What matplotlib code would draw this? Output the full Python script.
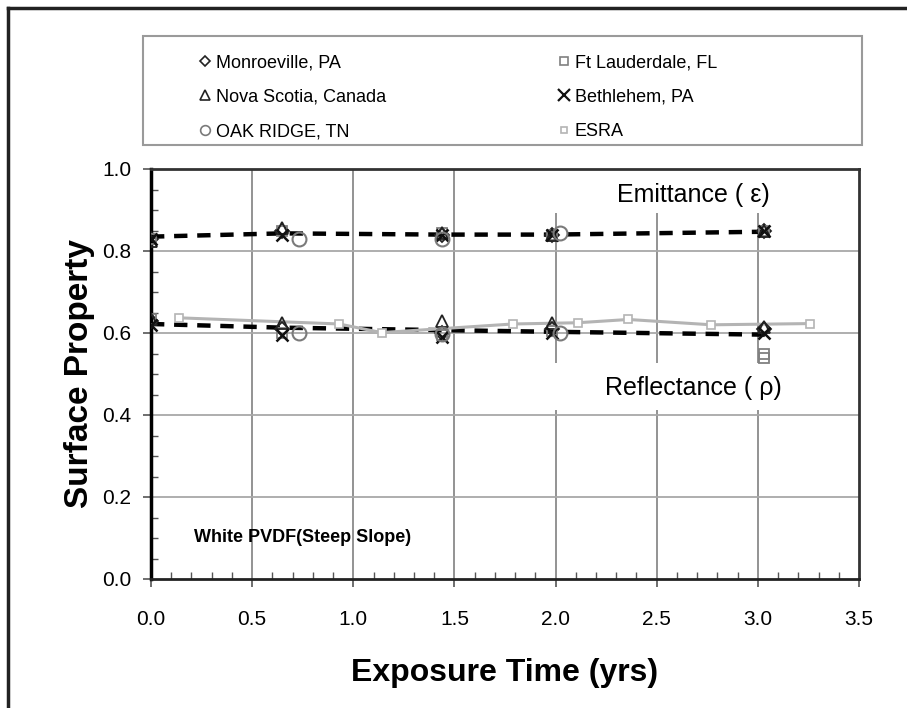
import matplotlib
matplotlib.use("Agg")
import matplotlib.pyplot as plt
from matplotlib.lines import Line2D
from matplotlib.patches import Rectangle
from matplotlib.ticker import MultipleLocator

plt.rcParams['font.family'] = ['Liberation Sans', 'DejaVu Sans']

# ---------------- data ----------------
times = [0.0, 0.65, 1.44, 1.98, 3.03]

monro_emit = [0.83, 0.85, 0.84, 0.84, 0.85]
monro_refl = [0.63, 0.61, 0.60, 0.61, 0.61]

ftl_emit = [0.83, 0.85, 0.845, 0.84, 0.85]
ftl_refl_times = [0.0, 0.65, 1.44, 1.98, 3.03, 3.03]
ftl_refl = [0.635, 0.60, 0.595, 0.605, 0.549, 0.539]

nova_emit = [0.825, 0.855, 0.845, 0.84, 0.85]
nova_refl = [0.635, 0.625, 0.63, 0.625, 0.615]

beth_emit = [0.83, 0.84, 0.84, 0.84, 0.85]
beth_refl = [0.62, 0.595, 0.59, 0.60, 0.60]

oak_times = [0.73, 1.44, 2.02]
oak_emit = [0.83, 0.83, 0.845]
oak_refl = [0.60, 0.597, 0.60]

esra_times = [0.14, 0.93, 1.14, 1.79, 2.11, 2.36, 2.77, 3.26]
esra_refl = [0.637, 0.622, 0.601, 0.622, 0.625, 0.633, 0.620, 0.623]

emit_fit = [0.835, 0.843, 0.840, 0.840, 0.847]
refl_fit = [0.622, 0.613, 0.607, 0.603, 0.596]

x_ticks = [0.0, 0.5, 1.0, 1.5, 2.0, 2.5, 3.0, 3.5]
y_ticks = [0.0, 0.2, 0.4, 0.6, 0.8, 1.0]

# ---------------- figure ----------------
W, H = 907, 708
fig = plt.figure(figsize=(W / 100, H / 100), dpi=100)
ax = fig.add_axes([151 / W, 1 - 579 / H, (859 - 151) / W, (579 - 169) / H])

ax.set_xlim(0, 3.5)
ax.set_ylim(0, 1.0)
ax.set_xticks(x_ticks)
ax.set_yticks(y_ticks)
ax.set_xticklabels([f"{v:.1f}" for v in x_ticks])
ax.set_yticklabels([f"{v:.1f}" for v in y_ticks])
ax.xaxis.set_minor_locator(MultipleLocator(0.1))
ax.yaxis.set_minor_locator(MultipleLocator(0.05))
ax.tick_params(axis='both', which='major', direction='out', length=6, width=1.2,
               color='#555555', labelsize=15)
ax.tick_params(axis='x', which='major', pad=16)
ax.tick_params(axis='y', which='major', pad=8)
ax.tick_params(axis='both', which='minor', direction='in', length=5, width=1.0,
               color='#555555')

# grid
for xv in x_ticks[1:-1]:
    ax.axvline(xv, color='#8a8a8a', lw=1.3, zorder=0.5)
for yv in y_ticks[1:-1]:
    ax.axhline(yv, color='#a8a8a8', lw=1.3, zorder=0.5)

# spines
for s in ['top', 'right']:
    ax.spines[s].set_color('#333333')
    ax.spines[s].set_linewidth(2.0)
ax.spines['left'].set_color('black')
ax.spines['left'].set_linewidth(2.5)
ax.spines['bottom'].set_color('#222222')
ax.spines['bottom'].set_linewidth(2.0)

# white boxes behind labels (cover gridlines)
ax.add_patch(Rectangle((0.52, 0.893), 0.41, 0.107, transform=ax.transAxes,
                       facecolor='white', edgecolor='none', zorder=0.8))
ax.add_patch(Rectangle((0.52, 0.412), 0.41, 0.115, transform=ax.transAxes,
                       facecolor='white', edgecolor='none', zorder=0.8))

# trend lines
ax.plot(times, emit_fit, color='black', lw=3.2, ls=(0, (3, 2.2)), zorder=2)
ax.plot(times, refl_fit, color='black', lw=3.2, ls=(0, (3, 2.2)), zorder=2)
ax.plot(esra_times, esra_refl, color='#b4b4b4', lw=2.2, marker='s', ms=6,
        mfc='white', mec='#b4b4b4', mew=1.2, zorder=2.5)

ms = 9
mk = dict(ls='none', zorder=3)
# Monroeville
ax.plot(times, monro_emit, marker='D', ms=ms - 2, mfc='none', mec='#222222', mew=1.3, **mk)
ax.plot(times, monro_refl, marker='D', ms=ms - 2, mfc='none', mec='#222222', mew=1.3, **mk)
# Ft Lauderdale
ax.plot(times, ftl_emit, marker='s', ms=ms - 2, mfc='none', mec='#808080', mew=1.3, **mk)
ax.plot(ftl_refl_times, ftl_refl, marker='s', ms=ms - 2, mfc='none', mec='#808080', mew=1.3, **mk)
# Nova Scotia
ax.plot(times, nova_emit, marker='^', ms=ms, mfc='none', mec='#222222', mew=1.3, **mk)
ax.plot(times, nova_refl, marker='^', ms=ms, mfc='none', mec='#222222', mew=1.3, **mk)
# Bethlehem
ax.plot(times, beth_emit, marker='x', ms=ms, mec='#111111', mew=1.8, **mk)
ax.plot(times, beth_refl, marker='x', ms=ms, mec='#111111', mew=1.8, **mk)
# Oak Ridge
ax.plot(oak_times, oak_emit, marker='o', ms=ms + 1, mfc='none', mec='#7a7a7a', mew=1.5, **mk)
ax.plot(oak_times, oak_refl, marker='o', ms=ms + 1, mfc='none', mec='#7a7a7a', mew=1.5, **mk)

# annotations
ax.text(2.68, 0.937, "Emittance ( ε)", fontsize=18, ha='center', va='center', zorder=4)
ax.text(2.68, 0.465, "Reflectance ( ρ)", fontsize=18, ha='center', va='center', zorder=4)
ax.text(0.75, 0.102, "White PVDF(Steep Slope)", fontsize=13, fontweight='bold',
        ha='center', va='center', zorder=4)

ax.set_xlabel("Exposure Time (yrs)", fontsize=23, fontweight='bold', labelpad=21)
ax.set_ylabel("Surface Property", fontsize=24, fontweight='bold', labelpad=5)

# outer frame (left and top)
fig.add_artist(Line2D([8 / W, 8 / W], [0, 1 - 8 / H], transform=fig.transFigure,
                      color='#222222', lw=2.5))
fig.add_artist(Line2D([8 / W, 1], [1 - 8 / H, 1 - 8 / H], transform=fig.transFigure,
                      color='#222222', lw=2.5))

# legend box
fig.add_artist(Rectangle((143 / W, 1 - 145 / H), (862 - 143) / W, (145 - 36) / H,
                         transform=fig.transFigure, facecolor='white',
                         edgecolor='#9a9a9a', lw=1.5, zorder=0))

def h(marker, color, size, mew=1.2, fill='none'):
    return Line2D([], [], ls='none', marker=marker, ms=size, mfc=fill, mec=color, mew=mew)

col1 = [h('D', '#222222', 5), h('^', '#222222', 7), h('o', '#7a7a7a', 7)]
col1_labels = ["Monroeville, PA", "Nova Scotia, Canada", "OAK RIDGE, TN"]
col2 = [h('s', '#808080', 6), h('x', '#111111', 8, mew=1.6), h('s', '#b4b4b4', 5)]
col2_labels = ["Ft Lauderdale, FL", "Bethlehem, PA", "ESRA"]

leg_kw = dict(loc='upper left', frameon=False, fontsize=13, handlelength=1.0,
              handletextpad=0.1, labelspacing=0.98, borderpad=0, borderaxespad=0)
fig.legend(col1, col1_labels, bbox_to_anchor=(196 / W, 1 - 54 / H), **leg_kw)
fig.legend(col2, col2_labels, bbox_to_anchor=(555 / W, 1 - 54 / H), **leg_kw)

fig.savefig("out.png", dpi=100)
